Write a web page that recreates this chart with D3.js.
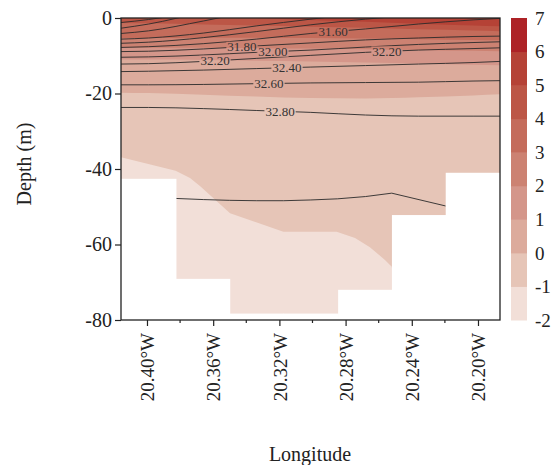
<!DOCTYPE html>
<html>
<head>
<meta charset="utf-8">
<script src="https://cdn.jsdelivr.net/npm/d3@7"></script>
<style>
  body { margin: 0; background: #fff; }
  svg text { font-family: "Liberation Serif", "DejaVu Serif", serif; }
</style>
</head>
<body>
<div id="chart-area"></div>
<script>
const MARGIN = { LEFT: 121, RIGHT: 53, TOP: 18, BOTTOM: 145 };
const WIDTH = 553 - MARGIN.LEFT - MARGIN.RIGHT;
const HEIGHT = 465 - MARGIN.TOP - MARGIN.BOTTOM;
const SERIF = '"Liberation Serif", "DejaVu Serif", serif';

// ---- data ----
// stations and bottom depth (m)
const stationLon = [-20.399, -20.366, -20.334, -20.301, -20.268, -20.236, -20.203];
const bottomDepth = [42.6, 69.1, 78.3, 78.3, 72.0, 52.2, 41.0];

// colour field: levels and colours of each band
const colorLevels = [-2, -1, 0, 1, 2, 3, 4, 5, 6, 7];
const bandColors = ["#f2dfd8", "#e6c5b7", "#dcab9c", "#d4968a", "#cc8272", "#c46c5b", "#bc5646", "#b54236", "#ad2226"];

// depth of each colour isoline along the section
const gridLon = [-20.4157, -20.399, -20.366, -20.334, -20.301, -20.268, -20.236, -20.203, -20.1867];
const iso0 = [19.8, 19.9, 20.3, 20.8, 21.2, 21.3, 21.0, 20.5, 20.2];
const iso1 = [11.0, 11.0, 11.1, 11.3, 11.5, 11.8, 12.1, 12.4, 12.5];
const iso2 = [7.9, 7.9, 7.9, 8.0, 8.1, 8.3, 8.5, 8.7, 8.8];
const iso3 = [5.3, 5.3, 5.2, 5.2, 5.3, 5.4, 5.6, 5.8, 5.9];
const iso4 = [1.3, 1.4, 1.7, 2.0, 2.3, 2.6, 3.0, 3.3, 3.5];
const iso5 = [-1.5, -1.2, -0.6, 0.0, 0.5, 1.0, 1.5, 2.0, 2.2];
// the -1 isoline runs deep, so it has its own points
const isoM1Lon = [-20.4157, -20.3827, -20.374, -20.368, -20.3498, -20.3176, -20.2854, -20.2743, -20.2653, -20.2562, -20.2521, -20.2471, -20.1867];
const isoM1Depth = [36.9, 40.45, 42.4, 44.5, 51.7, 56.6, 56.6, 58.3, 60.7, 64.1, 65.9, 80, 80];

// salinity contour lines (depth along gridLon)
const salLevels = [30.6, 30.8, 31.0, 31.2, 31.4, 31.6, 31.8, 32.0, 32.2, 32.4, 32.6, 32.8];
const salDepths = [
  [1.2, 0.4, -2.1, -5, -8, -11, -14, -17, -18],
  [2.7, 1.6, -1.5, -4, -7, -10, -13, -15, -16],
  [4.1, 3.4, 0.8, -2, -4.5, -7, -9, -11, -12],
  [5.6, 5.3, 4.0, 2.1, 0.3, -1.3, -2.5, -3.5, -4],
  [6.7, 6.4, 5.2, 3.6, 1.8, 0.3, -0.8, -1.5, -1.8],
  [7.8, 7.6, 6.8, 5.6, 4.1, 2.9, 1.6, 0.5, 0.1],
  [8.9, 8.8, 8.2, 7.4, 6.6, 5.8, 5.3, 4.9, 4.8],
  [10.4, 10.3, 9.8, 9.1, 8.5, 7.7, 7.0, 6.5, 6.3],
  [12.2, 12.1, 11.5, 10.7, 9.9, 9.1, 8.5, 8.1, 7.9],
  [14.2, 14.1, 13.8, 13.4, 13.0, 12.6, 12.2, 11.8, 11.5],
  [17.7, 17.7, 17.6, 17.4, 17.2, 17.1, 17.0, 16.7, 16.6],
  [23.7, 23.7, 24.0, 24.5, 25.0, 25.7, 26.0, 26.0, 26.0]
];
// deep contour that only spans the inner stations
const sal33Lon = [-20.3825, -20.366, -20.350, -20.334, -20.3174, -20.301, -20.2848, -20.268, -20.2521, -20.2195];
const sal33Depth = [47.8, 48.1, 48.3, 48.4, 48.4, 48.2, 47.9, 47.3, 46.4, 49.8];

// contour labels: level and where along the line
const labelLevels = [31.6, 31.8, 32.0, 32.2, 32.2, 32.4, 32.6, 32.8];
const labelLon = [-20.2876, -20.3426, -20.3239, -20.3589, -20.255, -20.3154, -20.3263, -20.3196];

// axes
const yTicks = [0, -20, -40, -60, -80];
const xTicks = [-20.40, -20.36, -20.32, -20.28, -20.24, -20.20];
const xMinorTicks = [-20.38, -20.34, -20.30, -20.26, -20.22];

const svg = d3.select("#chart-area").append("svg")
    .attr("width", 553)
    .attr("height", 465)
    .style("font-family", SERIF);

const g = svg.append("g")
    .attr("transform", `translate(${MARGIN.LEFT}, ${MARGIN.TOP})`);

const x = d3.scaleLinear()
    .domain([-20.4157, -20.1867])
    .range([0, WIDTH]);

const y = d3.scaleLinear()
    .domain([0, -80])
    .range([0, HEIGHT]);

const defs = svg.append("defs");
defs.append("clipPath").attr("id", "plot-clip")
  .append("rect")
    .attr("width", WIDTH)
    .attr("height", HEIGHT);

const plot = g.append("g").attr("clip-path", "url(#plot-clip)");

// colour bands: lightest as background, then each isoline filled up to the surface
plot.append("rect")
    .attr("width", WIDTH)
    .attr("height", HEIGHT)
    .attr("fill", bandColors[0]);

const fillArea = d3.area()
    .x(d => x(d[0]))
    .y0(-20)
    .y1(d => y(-d[1]));

plot.append("path")
    .datum(d3.zip(isoM1Lon, isoM1Depth))
    .attr("fill", bandColors[1])
    .attr("d", fillArea.curve(d3.curveLinear));

[iso0, iso1, iso2, iso3, iso4, iso5].forEach((iso, k) => {
    plot.append("path")
        .datum(d3.zip(gridLon, iso))
        .attr("fill", bandColors[k + 2])
        .attr("d", fillArea.curve(d3.curveMonotoneX));
});

// contour lines with gaps for labels
const lineGen = d3.line()
    .x(d => x(d[0]))
    .y(d => y(-d[1]))
    .curve(d3.curveMonotoneX);

const mask = defs.append("mask").attr("id", "label-mask");
mask.append("rect")
    .attr("x", -10).attr("y", -10)
    .attr("width", WIDTH + 20).attr("height", HEIGHT + 20)
    .attr("fill", "white");

const lines = plot.append("g").attr("mask", "url(#label-mask)");

salDepths.forEach(depths => {
    lines.append("path")
        .datum(d3.zip(gridLon, depths))
        .attr("fill", "none")
        .attr("stroke", "#2a2a2a")
        .attr("stroke-width", 0.9)
        .attr("d", lineGen);
});

lines.append("path")
    .datum(d3.zip(sal33Lon, sal33Depth))
    .attr("fill", "none")
    .attr("stroke", "#2a2a2a")
    .attr("stroke-width", 0.9)
    .attr("d", lineGen.curve(d3.curveLinear));

// labels sit on their line
const depthAt = (level, lon) => {
    const depths = salDepths[salLevels.indexOf(level)];
    const i = Math.max(1, d3.bisectRight(gridLon, lon));
    const t = (lon - gridLon[i - 1]) / (gridLon[i] - gridLon[i - 1]);
    return depths[i - 1] + t * (depths[i] - depths[i - 1]);
};

const labels = plot.append("g");
labelLevels.forEach((level, i) => {
    const lx = x(labelLon[i]);
    const ly = y(-depthAt(level, labelLon[i]));
    const t = labels.append("text")
        .attr("x", lx)
        .attr("y", ly)
        .attr("dy", "0.35em")
        .attr("text-anchor", "middle")
        .style("font-size", "13px")
        .style("font-family", SERIF)
        .attr("fill", "#333")
        .text(level.toFixed(2));
    const w = t.node().getComputedTextLength();
    mask.append("rect")
        .attr("x", lx - w / 2 - 1)
        .attr("y", ly - 5)
        .attr("width", w + 2)
        .attr("height", 10)
        .attr("fill", "black");
});

// white sea floor below each station
const edges = stationLon.map((lon, i) => {
    const left = i === 0 ? x.domain()[0] : (stationLon[i - 1] + lon) / 2;
    const right = i === stationLon.length - 1 ? x.domain()[1] : (lon + stationLon[i + 1]) / 2;
    return [left, right];
});

plot.selectAll("rect.floor")
    .data(stationLon)
    .enter().append("rect")
    .attr("class", "floor")
    .attr("x", (d, i) => x(edges[i][0]))
    .attr("width", (d, i) => x(edges[i][1]) - x(edges[i][0]) + 0.5)
    .attr("y", (d, i) => y(-bottomDepth[i]))
    .attr("height", (d, i) => HEIGHT - y(-bottomDepth[i]) + 1)
    .attr("fill", "#fff");

// frame
g.append("rect")
    .attr("width", WIDTH)
    .attr("height", HEIGHT)
    .attr("fill", "none")
    .attr("stroke", "#222")
    .attr("stroke-width", 1.3);

// Y axis
const yAxisCall = d3.axisLeft(y)
    .tickValues(yTicks)
    .tickSize(6)
    .tickSizeOuter(0)
    .tickFormat(d => String(d));
const yAxis = g.append("g").call(yAxisCall).attr("font-family", null);
yAxis.select(".domain").remove();
yAxis.selectAll("text")
    .style("font-size", "20px")
    .style("font-family", SERIF)
    .attr("fill", "#222")
    .attr("x", -9);
yAxis.selectAll("line").attr("stroke", "#222").attr("stroke-width", 1.2);

// X axis
const xAxisCall = d3.axisBottom(x)
    .tickValues(xTicks)
    .tickSize(6)
    .tickSizeOuter(0)
    .tickFormat(d => Math.abs(d).toFixed(2) + "°W");
const xAxis = g.append("g")
    .attr("transform", `translate(0, ${HEIGHT})`)
    .call(xAxisCall)
    .attr("font-family", null);
xAxis.select(".domain").remove();
xAxis.selectAll("line").attr("stroke", "#222").attr("stroke-width", 1.2);
xAxis.selectAll("text")
    .style("font-size", "19px")
    .style("font-family", SERIF)
    .attr("fill", "#222")
    .attr("transform", "rotate(-90)")
    .attr("x", -13)
    .attr("y", 0)
    .attr("dy", "0.35em")
    .style("text-anchor", "end");

g.append("g")
    .attr("transform", `translate(0, ${HEIGHT})`)
    .selectAll("line")
    .data(xMinorTicks)
    .enter().append("line")
    .attr("x1", d => x(d)).attr("x2", d => x(d))
    .attr("y1", 0).attr("y2", 3)
    .attr("stroke", "#222")
    .attr("stroke-width", 1.2);

// axis labels
g.append("text")
    .attr("x", -146)
    .attr("y", -90)
    .attr("transform", "rotate(-90)")
    .attr("text-anchor", "middle")
    .style("font-size", "20px")
    .style("font-family", SERIF)
    .attr("fill", "#222")
    .text("Depth (m)");

g.append("text")
    .attr("x", 310 - MARGIN.LEFT)
    .attr("y", 461 - MARGIN.TOP)
    .attr("text-anchor", "middle")
    .style("font-size", "20px")
    .style("font-family", SERIF)
    .attr("fill", "#222")
    .text("Longitude");

// colour bar
const cbY = d3.scaleLinear()
    .domain([-2, 7])
    .range([HEIGHT, 0]);

const colorbar = g.append("g")
    .attr("transform", `translate(${511 - MARGIN.LEFT}, 0)`);

colorbar.selectAll("rect")
    .data(bandColors)
    .enter().append("rect")
    .attr("x", 0)
    .attr("width", 16)
    .attr("y", (d, i) => cbY(colorLevels[i + 1]))
    .attr("height", (d, i) => cbY(colorLevels[i]) - cbY(colorLevels[i + 1]) + 0.5)
    .attr("fill", d => d);

colorbar.selectAll("text")
    .data(colorLevels)
    .enter().append("text")
    .attr("x", 24)
    .attr("y", d => cbY(d))
    .attr("dy", "0.35em")
    .style("font-size", "19px")
    .style("font-family", SERIF)
    .attr("fill", "#222")
    .text(d => String(d));
</script>
</body>
</html>
